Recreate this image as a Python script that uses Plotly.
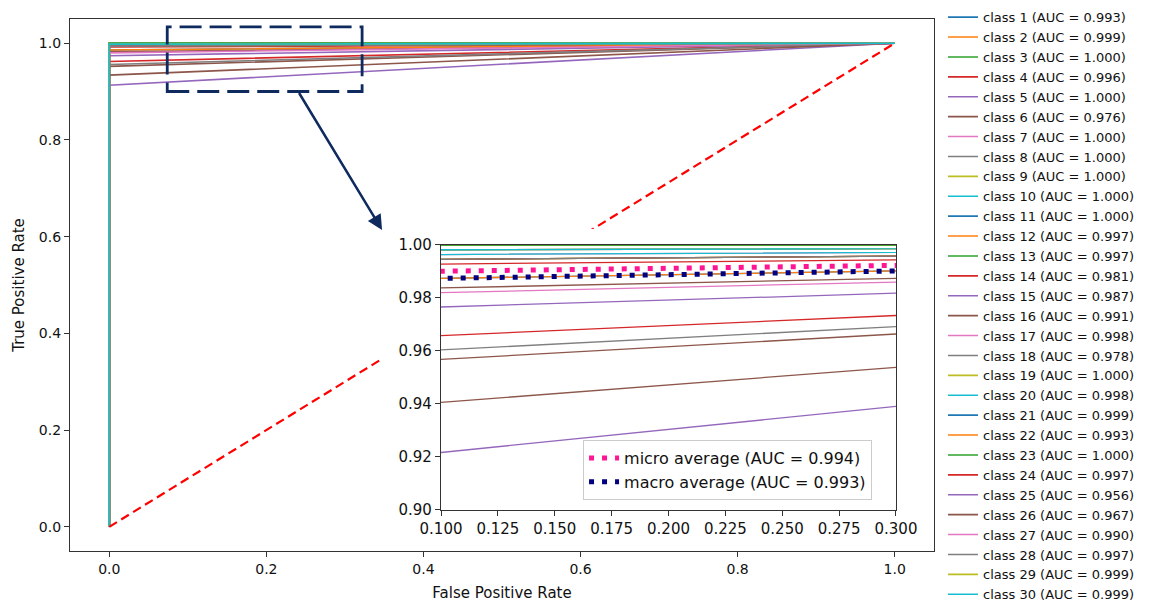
import plotly.graph_objects as go

# ---------------- data ----------------
class_names = ["class 1", "class 2", "class 3", "class 4", "class 5", "class 6",
               "class 7", "class 8", "class 9", "class 10", "class 11", "class 12",
               "class 13", "class 14", "class 15", "class 16", "class 17", "class 18",
               "class 19", "class 20", "class 21", "class 22", "class 23", "class 24",
               "class 25", "class 26", "class 27", "class 28", "class 29", "class 30"]
auc_values = [0.993, 0.999, 1.000, 0.996, 1.000, 0.976, 1.000, 1.000, 1.000, 1.000,
              1.000, 0.997, 0.997, 0.981, 0.987, 0.991, 0.998, 0.978, 1.000, 0.998,
              0.999, 0.993, 1.000, 0.997, 0.956, 0.967, 0.990, 0.997, 0.999, 0.999]
# true positive rate reached at FPR = 0
tpr_at_fpr0 = [0.986, 0.998, 1.000, 0.992, 1.000, 0.952, 1.000, 1.000, 1.000, 1.000,
               1.000, 0.994, 0.994, 0.962, 0.974, 0.982, 0.996, 0.956, 1.000, 0.996,
               0.998, 0.986, 1.000, 0.994, 0.913, 0.934, 0.980, 0.994, 0.998, 0.998]
fpr_points = [0.0, 0.0, 1.0]
tpr_start, tpr_end = 0.0, 1.0

avg_names = ["micro average", "macro average"]
avg_auc = [0.994, 0.993]
avg_tpr_at_fpr0 = [0.989, 0.986]

chance_fpr = [0.0, 1.0]
chance_tpr = [0.0, 1.0]

main_ticks = [0.0, 0.2, 0.4, 0.6, 0.8, 1.0]

# ---------------- styles ----------------
tab10 = ['#1f77b4', '#ff7f0e', '#2ca02c', '#d62728', '#9467bd',
         '#8c564b', '#e377c2', '#7f7f7f', '#bcbd22', '#17becf']
avg_colors = ['deeppink', 'navy']
navy = '#0f2a5f'
axis_col = '#333333'
FONT = 'DejaVu Sans'

fig = go.Figure()

# main ROC curves
for i, (name, auc, t0) in enumerate(zip(class_names, auc_values, tpr_at_fpr0)):
    fig.add_trace(go.Scatter(
        x=fpr_points, y=[tpr_start, t0, tpr_end], mode='lines',
        line=dict(color=tab10[i % 10], width=1.6),
        name=f"{name} (AUC = {auc:.3f})", legend='legend',
        xaxis='x', yaxis='y', hoverinfo='skip'))

# chance line
fig.add_trace(go.Scatter(x=chance_fpr, y=chance_tpr, mode='lines',
                         line=dict(color='red', width=2.2, dash='9px,5px'),
                         showlegend=False, xaxis='x', yaxis='y', hoverinfo='skip'))

# blank backing subplot for the inset
fig.add_trace(go.Scatter(x=[], y=[], xaxis='x2', yaxis='y2', showlegend=False))

# inset curves
for i, t0 in enumerate(tpr_at_fpr0):
    fig.add_trace(go.Scatter(
        x=fpr_points, y=[tpr_start, t0, tpr_end], mode='lines',
        line=dict(color=tab10[i % 10], width=1.3),
        showlegend=False, xaxis='x3', yaxis='y3', hoverinfo='skip'))

for name, auc, t0, col in zip(avg_names, avg_auc, avg_tpr_at_fpr0, avg_colors):
    fig.add_trace(go.Scatter(
        x=fpr_points, y=[tpr_start, t0, tpr_end], mode='lines',
        line=dict(color=col, width=5, dash='5px,8px'),
        name=f"{name} (AUC = {auc:.3f})", legend='legend2',
        xaxis='x3', yaxis='y3', hoverinfo='skip'))

axis_common = dict(showline=True, mirror=True, linecolor=axis_col, linewidth=1.3,
                   ticks='outside', ticklen=5, tickcolor=axis_col, tickwidth=1.2,
                   showgrid=False, zeroline=False)

fig.update_layout(
    width=1153, height=603,
    margin=dict(l=70, r=219, t=19, b=52, autoexpand=False),
    paper_bgcolor='white', plot_bgcolor='white',
    font=dict(family=FONT, size=15, color='#111111'),
    xaxis=dict(domain=[0, 1], range=[-0.05, 1.05], tickvals=main_ticks, tickformat='.1f',
               tickfont=dict(size=14),
               title=dict(text='False Positive Rate', font=dict(size=15), standoff=11),
               anchor='y', **axis_common),
    yaxis=dict(domain=[0, 1], range=[-0.05, 1.05], tickvals=main_ticks, tickformat='.1f',
               tickfont=dict(size=14),
               title=dict(text='True Positive Rate', font=dict(size=15), standoff=10),
               anchor='x', **axis_common),
    xaxis2=dict(domain=[0.3623, 0.9664], range=[0, 1], visible=False, anchor='y2',
                fixedrange=True),
    yaxis2=dict(domain=[0.0207, 0.6053], range=[0, 1], visible=False, anchor='x2',
                fixedrange=True),
    xaxis3=dict(domain=[0.4294, 0.956], range=[0.1, 0.3], tick0=0.1, dtick=0.025,
                tickformat='.3f', anchor='y3', tickfont=dict(size=15), **axis_common),
    yaxis3=dict(domain=[0.0771, 0.5752], range=[0.9, 1.0], tick0=0.9, dtick=0.02,
                tickformat='.2f', anchor='x3', tickfont=dict(size=15), **axis_common),
    legend=dict(x=1.0104, y=1.0316, xanchor='left', yanchor='top',
                font=dict(family=FONT, size=13, color='#111111'),
                bgcolor='rgba(0,0,0,0)', borderwidth=0, tracegroupgap=0,
                maxheight=900),
    legend2=dict(x=0.5938, y=0.0959, xanchor='left', yanchor='bottom',
                 font=dict(family=FONT, size=16, color='#111111'),
                 bgcolor='white', bordercolor='#cccccc', borderwidth=1),
    shapes=[
        dict(type='rect', xref='x2', yref='y2', x0=0, x1=1, y0=0, y1=1,
             fillcolor='white', line=dict(width=0), layer='below'),
        dict(type='rect', xref='x', yref='y', x0=0.0738, x1=0.3219, y0=0.9001, y1=1.0337,
             line=dict(color=navy, width=2.8, dash='22px,8px'), layer='above'),
    ],
    annotations=[
        dict(x=0.3473, y=0.6138, ax=0.2405, ay=0.9001, xref='x', yref='y',
             axref='x', ayref='y', text='', showarrow=True, arrowhead=2,
             arrowsize=1.2, arrowwidth=2.5, arrowcolor=navy, standoff=0),
    ],
)

fig.write_html("out.html")
